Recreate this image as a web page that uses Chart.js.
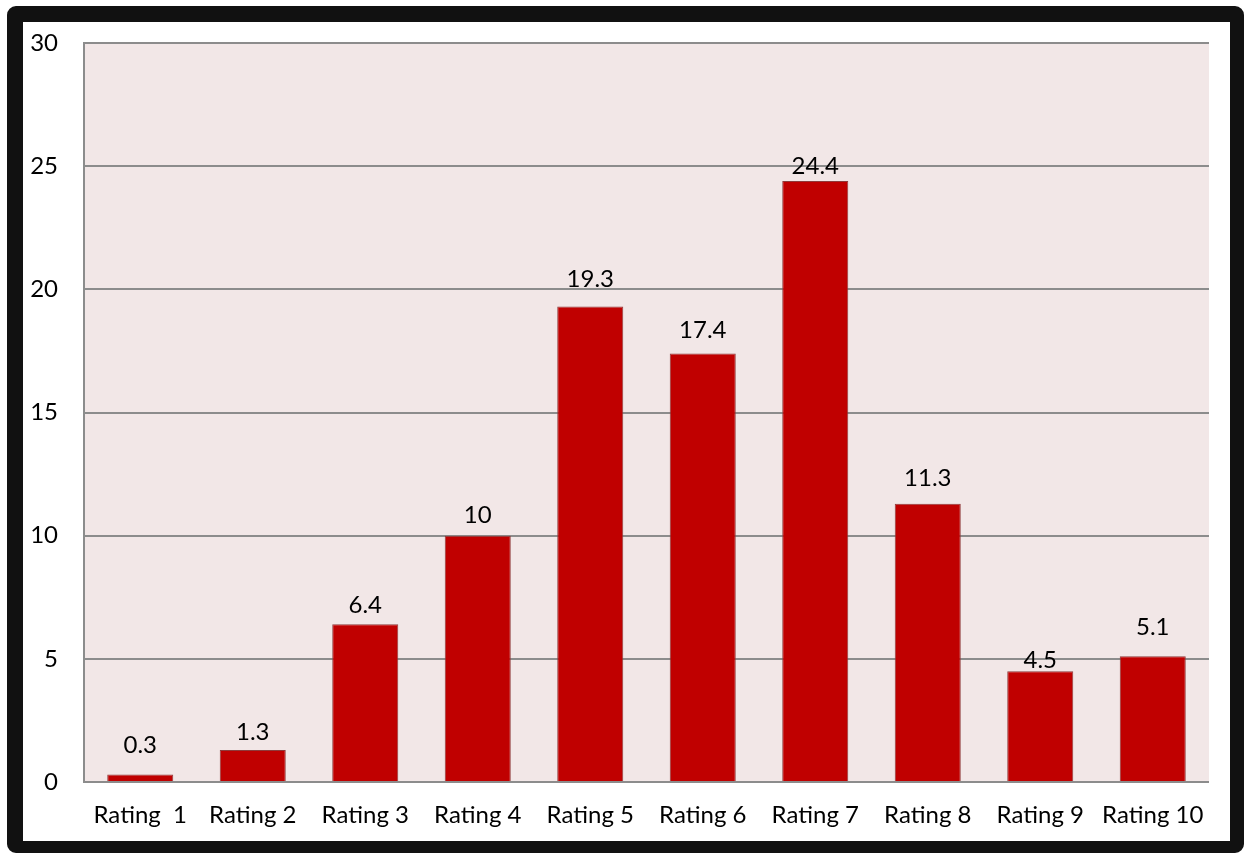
<!DOCTYPE html>
<html>
<head>
<meta charset="utf-8">
<script src="https://cdn.jsdelivr.net/npm/chart.js@4"></script>
<style>
    html, body { margin: 0; padding: 0; background: #fff; }
    body { width: 1244px; height: 853px; position: relative; overflow: hidden; }
    .frame {
        position: absolute;
        left: 7px; top: 6px;
        width: 1237px; height: 847px;
        box-sizing: border-box;
        border-style: solid;
        border-color: #111;
        border-width: 16px 14px 12px 16px;
        border-radius: 9px;
        background: #fff;
    }
    .frame canvas { display: block; }
</style>
</head>
<body>
<div class="frame">
    <canvas id="ratings" width="1207" height="819"></canvas>
</div>
<script>
// Share of responses per rating
const categories = ['Rating  1', 'Rating 2', 'Rating 3', 'Rating 4', 'Rating 5',
                    'Rating 6', 'Rating 7', 'Rating 8', 'Rating 9', 'Rating 10'];
const shares = [0.3, 1.3, 6.4, 10, 19.3, 17.4, 24.4, 11.3, 4.5, 5.1];
const yTicks = [0, 5, 10, 15, 20, 25, 30];

// how far each value label sits above its bar (px)
const labelLift = [22, 10, 11, 13, 20, 15, 7, 18, 3, 21];

const FONT = "Lato, 'Open Sans', sans-serif";

const plotBackground = {
    id: 'plotBackground',
    beforeDraw(chart) {
        const { ctx, chartArea: a } = chart;
        ctx.save();
        ctx.fillStyle = '#F2E7E7';
        ctx.fillRect(a.left, a.top, a.right - a.left, a.bottom - a.top);
        ctx.restore();
    }
};

const valueLabels = {
    id: 'valueLabels',
    afterDatasetsDraw(chart) {
        const ctx = chart.ctx;
        const meta = chart.getDatasetMeta(0);
        ctx.save();
        ctx.font = '24px ' + FONT;
        ctx.fillStyle = '#000';
        ctx.textAlign = 'center';
        ctx.textBaseline = 'alphabetic';
        meta.data.forEach((bar, i) => {
            ctx.fillText(String(shares[i]), bar.x, bar.y - labelLift[i]);
        });
        ctx.restore();
    }
};

new Chart(document.getElementById('ratings'), {
    type: 'bar',
    data: {
        labels: categories,
        datasets: [{
            data: shares,
            backgroundColor: '#C00000',
            borderColor: '#8E3B3B',
            borderWidth: 1,
            barPercentage: 1,
            categoryPercentage: 0.587
        }]
    },
    options: {
        responsive: false,
        animation: false,
        layout: { padding: { top: 21, right: 21, left: 0, bottom: 0 } },
        plugins: {
            legend: { display: false },
            tooltip: { enabled: false }
        },
        scales: {
            x: {
                grid: { display: false, drawTicks: false },
                border: { display: false },
                ticks: {
                    color: '#000',
                    padding: 19,
                    maxRotation: 0,
                    autoSkip: false,
                    font: { family: FONT, size: 24 }
                },
                afterFit(scale) { scale.height = 59; }
            },
            y: {
                min: 0,
                max: 30,
                afterBuildTicks(scale) {
                    scale.ticks = yTicks.map(v => ({ value: v }));
                },
                grid: {
                    color: '#8C8C8C',
                    lineWidth: 2,
                    drawTicks: false
                },
                border: { display: true, color: '#8C8C8C', width: 2 },
                ticks: {
                    color: '#000',
                    padding: 26,
                    font: { family: FONT, size: 24 }
                },
                afterFit(scale) {
                    scale.width = 61;
                    scale.paddingTop = 0;
                    scale.paddingBottom = 0;
                }
            }
        }
    },
    plugins: [plotBackground, valueLabels]
});
</script>
</body>
</html>
